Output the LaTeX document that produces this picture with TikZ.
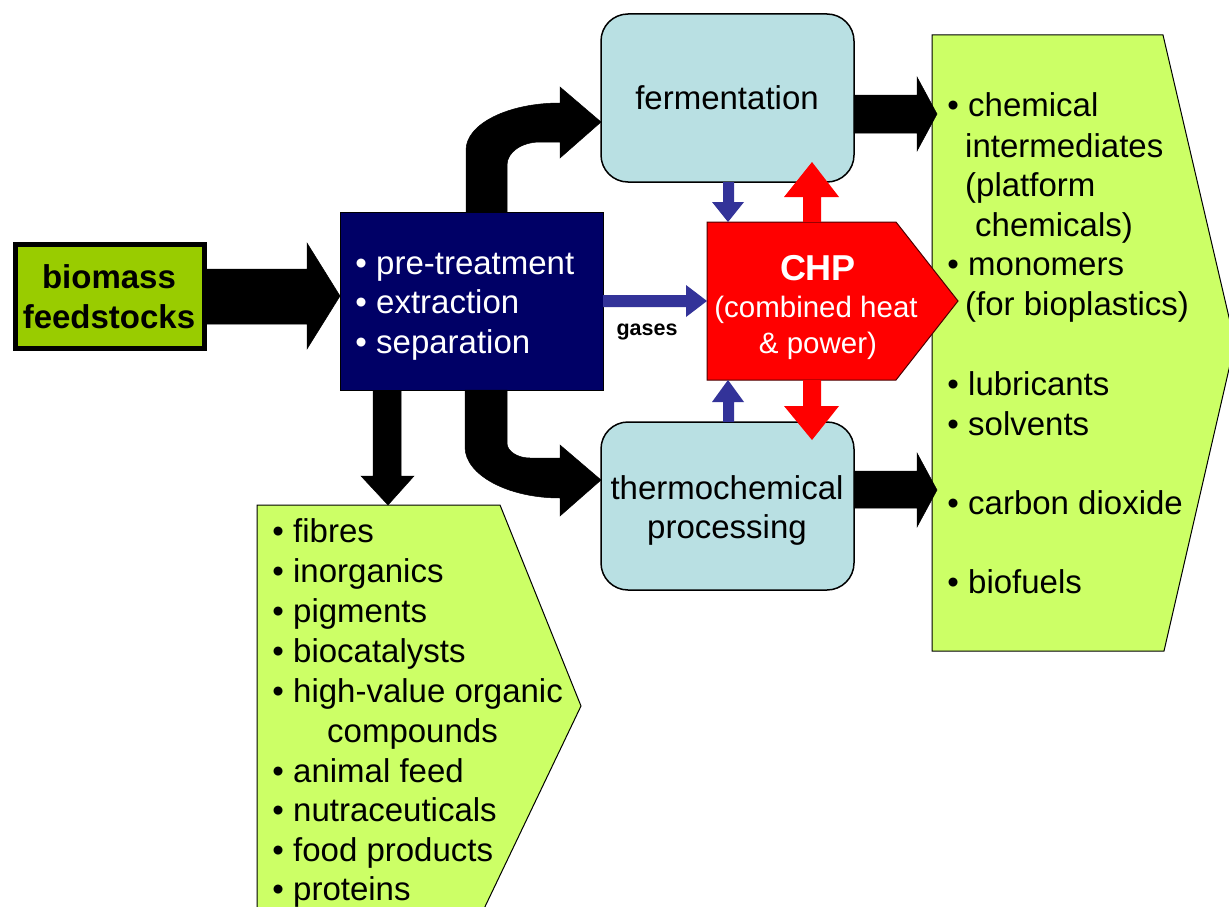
\documentclass[tikz,border=0pt]{standalone}
\usepackage{fontspec}
\setmainfont{Liberation Sans}
\definecolor{biogreen}{HTML}{99CC00}
\definecolor{litegreen}{HTML}{CCFF66}
\definecolor{navy}{HTML}{000066}
\definecolor{liteblue}{HTML}{B9E0E3}
\definecolor{gasblue}{HTML}{333399}
\definecolor{chpred}{HTML}{FF0000}
\begin{document}
\begin{tikzpicture}[x=1pt,y=-1pt,
  txt/.style={inner sep=0pt, font=\fontsize{33}{39.6}\selectfont, anchor=base west},
  ctxt/.style={inner sep=0pt, font=\fontsize{33}{39.6}\selectfont, anchor=base},
  wtxt/.style={txt, text=white},
  outbox/.style={fill=litegreen, draw=black, line width=1pt},
  procbox/.style={fill=liteblue, draw=black, line width=1.5pt, rounded corners=27pt},
  blackarrow/.style={fill=black, draw=black, line width=0.5pt},
  bluearrow/.style={fill=gasblue},
  redarrow/.style={fill=chpred},
]
\useasboundingbox (0,0) rectangle (1229,907);
\clip (0,0) rectangle (1229,907);
\fill[white] (0,0) rectangle (1229,907);

% output boxes
\draw[outbox] (257,505) -- (500,505) -- (581,706) -- (481,915) -- (257,915) -- cycle;
\draw[outbox] (932,35) -- (1163,35) -- (1235,343) -- (1164,651) -- (932,651) -- cycle;

% biomass
\node[fill=biogreen, draw=black, line width=5pt, minimum width=189pt, minimum height=104pt, inner sep=0pt] (bio) at (110,296.5) {};
\node[ctxt, font=\fontsize{33}{39.6}\selectfont\bfseries] (bio1) at (109,288) {biomass};
\node[ctxt, font=\fontsize{33}{39.6}\selectfont\bfseries] (bio2) at (109,328) {feedstocks};

% process box
\node[fill=navy, draw=black, line width=1pt, minimum width=263pt, minimum height=178pt, inner sep=0pt] (proc) at (471.5,301) {};
\node[wtxt] (p1) at (376,274) {\llap{\textbullet\ }pre-treatment};
\node[wtxt] (p2) at (376,313) {\llap{\textbullet\ }extraction};
\node[wtxt] (p3) at (376,353) {\llap{\textbullet\ }separation};

% fermentation / thermochemical
\draw[procbox] (601,14) rectangle (854,182);
\node[ctxt] (ferm) at (727,110) {fermentation};
\draw[procbox] (601,422) rectangle (854,590);
\node[ctxt] (thermo1) at (727,499) {thermochemical};
\node[ctxt] (thermo2) at (727,538) {processing};

% black arrows
\draw[blackarrow] (207,269) -- (307,269) -- (307,243) -- (340,296) -- (307,349) -- (307,324) -- (207,324) -- cycle;
\draw[blackarrow] (854,95) -- (917,95) -- (917,77) -- (937,114) -- (917,151) -- (917,133) -- (854,133) -- cycle;
\draw[blackarrow] (854,471) -- (917,471) -- (917,453) -- (937,490) -- (917,527) -- (917,508) -- (854,508) -- cycle;
\draw[blackarrow] (373,391) -- (373,476) -- (361,476) -- (388,505) -- (414,476) -- (401,476) -- (401,391) -- cycle;
% curved up arrow
\draw[blackarrow] (466,212) -- (466,150) .. controls (466,124) and (508,103) .. (560,103)
  -- (560,87) -- (601,122) -- (560,158) -- (560,142) -- (540,142)
  .. controls (522,142) and (507,152) .. (507,165) -- (507,212) -- cycle;
% curved down arrow
\draw[blackarrow] (465,390) -- (465,447) .. controls (465,475) and (508,498) .. (560,498)
  -- (560,516) -- (601,480) -- (560,445) -- (560,458) -- (530,458)
  .. controls (517,458) and (507,451) .. (507,443) -- (507,390) -- cycle;

% CHP
\draw[fill=chpred, draw=black!70!red, line width=1pt] (707,222) -- (896,222) -- (958,301) -- (896,380) -- (707,380) -- cycle;
\coordinate (chp) at (816,301);
\node[ctxt, text=white, font=\fontsize{36}{40}\selectfont\bfseries] (chp1) at (818,280) {CHP};
\node[ctxt, text=white, font=\fontsize{29.5}{36}\selectfont] (chp2) at (816,317) {(combined heat};
\node[ctxt, text=white, font=\fontsize{29.5}{36}\selectfont] (chp3) at (818,353) {\&{} power)};

% blue arrows
\fill[bluearrow] (603,295) -- (686,295) -- (686,285) -- (707,301) -- (686,317) -- (686,307) -- (603,307) -- cycle;
\node[ctxt, font=\fontsize{21.5}{24}\selectfont\bfseries] (gases) at (647,335) {gases};
\fill[bluearrow] (723,182) -- (723,202) -- (712,202) -- (728,222) -- (744,202) -- (734,202) -- (734,182) -- cycle;
\fill[bluearrow] (723,422) -- (723,402) -- (712,402) -- (728,380) -- (744,402) -- (734,402) -- (734,422) -- cycle;

% red arrows
\fill[redarrow] (803,222) -- (803,197) -- (784,197) -- (812,162) -- (839,197) -- (821,197) -- (821,222) -- cycle;
\fill[redarrow] (803,380) -- (803,406) -- (784,406) -- (812,440) -- (839,406) -- (821,406) -- (821,380) -- cycle;

% right list
\node[txt] (r1) at (968,117) {\llap{\textbullet\ }chemical};
\node[txt] (r2) at (965,157) {intermediates};
\node[txt] (r3) at (965,196) {(platform};
\node[txt] (r4) at (975,236) {chemicals)};
\node[txt] (r5) at (968,275) {\llap{\textbullet\ }monomers};
\node[txt] (r6) at (965,315) {(for bioplastics)};
\node[txt] (r7) at (968,395) {\llap{\textbullet\ }lubricants};
\node[txt] (r8) at (968,435) {\llap{\textbullet\ }solvents};
\node[txt] (r9) at (968,514) {\llap{\textbullet\ }carbon dioxide};
\node[txt] (r10) at (968,593) {\llap{\textbullet\ }biofuels};

% lower list
\node[txt] (l1) at (293,542) {\llap{\textbullet\ }fibres};
\node[txt] (l2) at (293,582) {\llap{\textbullet\ }inorganics};
\node[txt] (l3) at (293,622) {\llap{\textbullet\ }pigments};
\node[txt] (l4) at (293,662) {\llap{\textbullet\ }biocatalysts};
\node[txt] (l5) at (293,702) {\llap{\textbullet\ }high-value organic};
\node[txt] (l6) at (327,742) {compounds};
\node[txt] (l7) at (293,782) {\llap{\textbullet\ }animal feed};
\node[txt] (l8) at (293,821) {\llap{\textbullet\ }nutraceuticals};
\node[txt] (l9) at (293,861) {\llap{\textbullet\ }food products};
\node[txt] (l10) at (293,900) {\llap{\textbullet\ }proteins};
\end{tikzpicture}
\end{document}
